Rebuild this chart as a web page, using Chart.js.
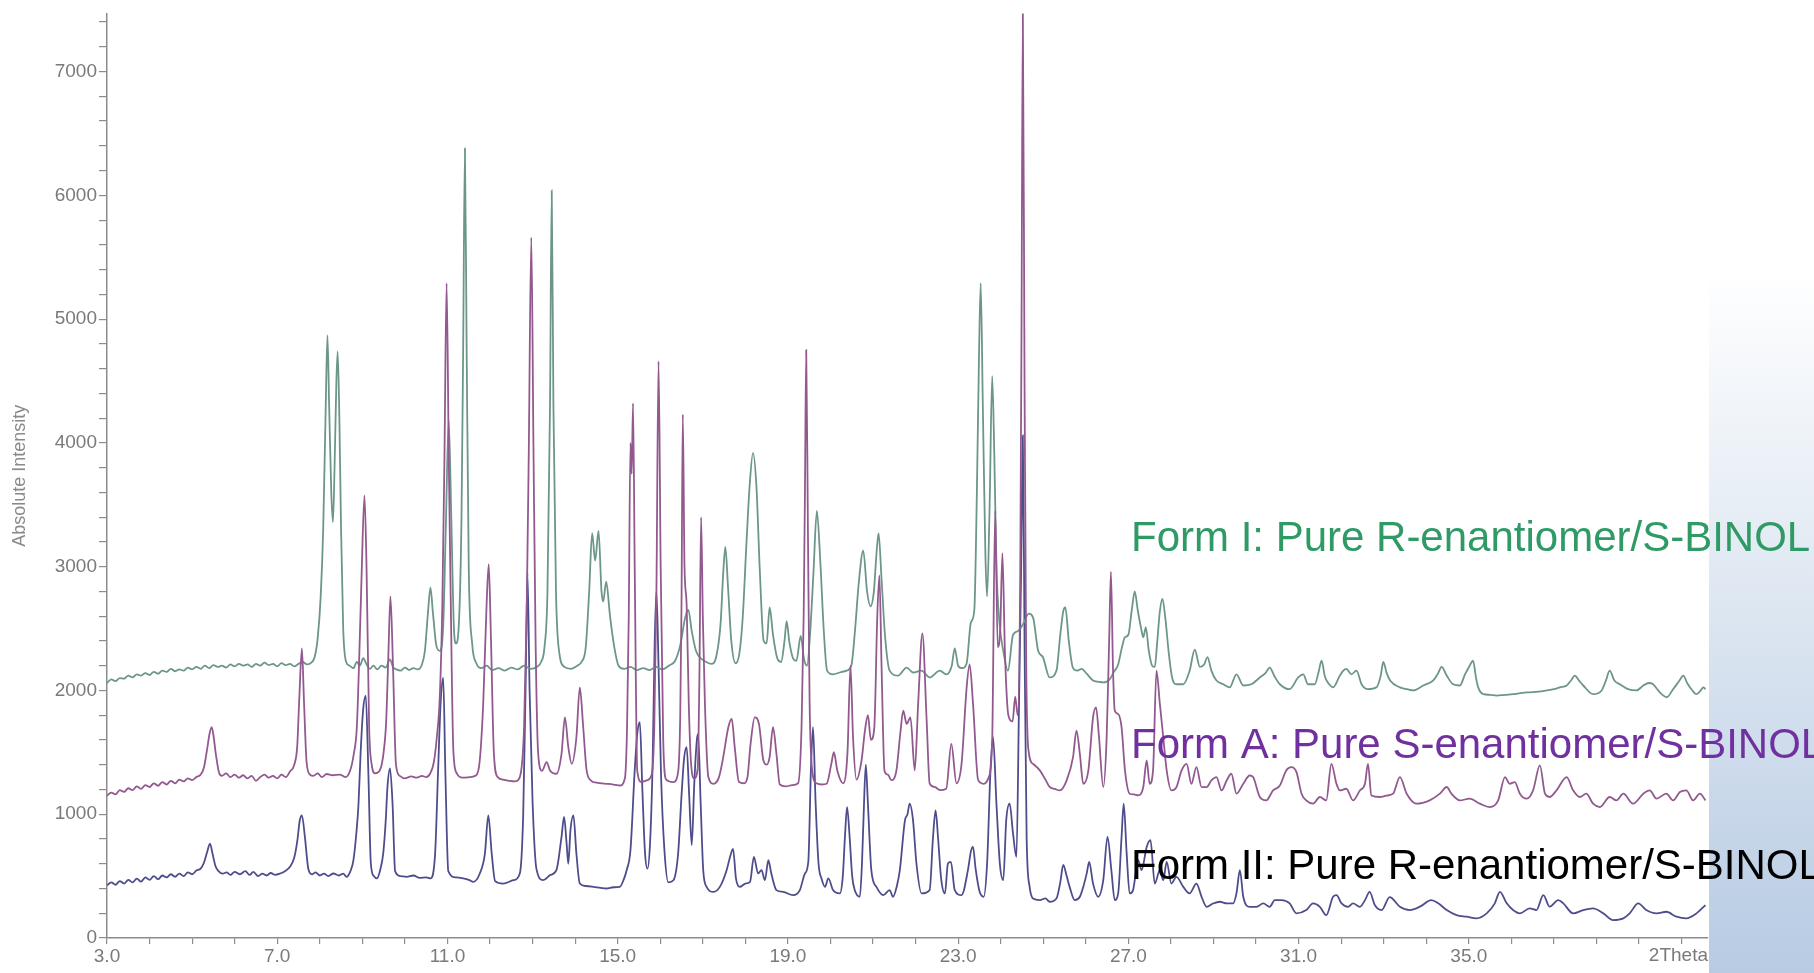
<!DOCTYPE html>
<html>
<head>
<meta charset="utf-8">
<title>XRPD overlay - BINOL salt forms</title>
<script src="https://cdn.jsdelivr.net/npm/chart.js@4.4.1/dist/chart.umd.min.js"></script>
<style>
  html, body { margin: 0; padding: 0; background: #ffffff; }
  canvas { display: block; }
</style>
</head>
<body>
<canvas id="xrpdChart" width="1814" height="973"></canvas>
<script>
// [2theta, absolute intensity] for each diffractogram (offset traces)
const formI = [
  [3.0,2060],[3.1,2090],[3.2,2075],[3.3,2100],[3.4,2095],[3.5,2120],[3.6,2105],[3.7,2130],[3.8,2120],[3.9,2140],
  [4.0,2125],[4.1,2150],[4.2,2135],[4.3,2160],[4.4,2150],[4.5,2175],[4.6,2155],[4.7,2170],[4.8,2160],[4.9,2185],
  [5.0,2170],[5.1,2190],[5.2,2175],[5.3,2200],[5.4,2180],[5.5,2205],[5.6,2190],[5.7,2200],[5.8,2185],[5.9,2210],
  [6.0,2195],[6.1,2215],[6.2,2200],[6.3,2210],[6.4,2190],[6.5,2215],[6.6,2200],[6.7,2225],[6.8,2205],[6.9,2215],
  [7.0,2195],[7.1,2220],[7.2,2205],[7.3,2215],[7.4,2195],[7.5,2215],[7.6,2230],[7.7,2210],[7.8,2225],[7.88,2270],
  [7.95,2420],[8.02,2750],[8.08,3300],[8.14,4300],[8.18,4870],[8.22,4300],[8.27,3600],[8.31,3360],[8.35,3850],[8.39,4500],
  [8.42,4740],[8.46,4200],[8.5,3300],[8.55,2500],[8.62,2230],[8.7,2200],[8.79,2180],[8.87,2230],[8.94,2200],[9.02,2260],
  [9.1,2210],[9.18,2175],[9.26,2200],[9.35,2170],[9.45,2200],[9.55,2185],[9.65,2250],[9.72,2190],[9.8,2170],[9.9,2160],
  [10.0,2185],[10.1,2165],[10.2,2180],[10.3,2170],[10.4,2210],[10.47,2320],[10.54,2620],[10.6,2830],[10.66,2620],[10.74,2360],
  [10.82,2320],[10.9,2520],[10.96,3300],[11.03,4180],[11.09,3400],[11.15,2520],[11.2,2380],[11.27,2550],[11.33,3400],[11.37,4800],
  [11.41,6380],[11.45,4800],[11.5,3000],[11.58,2380],[11.68,2220],[11.8,2180],[11.92,2200],[12.05,2165],[12.2,2180],[12.35,2160],
  [12.5,2185],[12.65,2170],[12.8,2200],[12.95,2175],[13.1,2190],[13.2,2230],[13.28,2350],[13.35,2800],[13.41,4300],[13.45,6040],
  [13.49,4300],[13.55,2800],[13.63,2300],[13.75,2190],[13.9,2175],[14.05,2200],[14.15,2230],[14.25,2350],[14.33,2800],[14.4,3270],
  [14.47,3050],[14.55,3290],[14.62,2800],[14.66,2720],[14.73,2880],[14.82,2600],[14.92,2350],[15.02,2200],[15.15,2175],[15.3,2190],
  [15.45,2165],[15.6,2180],[15.75,2165],[15.9,2190],[16.05,2170],[16.2,2200],[16.35,2240],[16.48,2380],[16.58,2580],[16.66,2650],
  [16.74,2480],[16.84,2320],[16.95,2260],[17.08,2230],[17.2,2215],[17.32,2280],[17.42,2550],[17.48,2950],[17.53,3160],[17.59,2850],
  [17.67,2400],[17.77,2220],[17.86,2300],[17.94,2600],[18.02,3150],[18.1,3650],[18.18,3920],[18.26,3650],[18.34,2965],[18.43,2400],
  [18.5,2380],[18.57,2670],[18.65,2450],[18.75,2260],[18.84,2230],[18.92,2400],[18.97,2560],[19.03,2400],[19.12,2260],[19.2,2240],
  [19.3,2440],[19.38,2250],[19.45,2200],[19.52,2450],[19.6,2950],[19.68,3450],[19.76,3050],[19.84,2500],[19.92,2160],[20.06,2130],
  [20.22,2145],[20.38,2160],[20.49,2200],[20.58,2500],[20.66,2850],[20.77,3130],[20.86,2800],[20.94,2680],[21.02,2800],[21.08,3100],
  [21.13,3270],[21.2,2900],[21.28,2450],[21.39,2160],[21.59,2120],[21.79,2185],[21.94,2145],[22.14,2160],[22.33,2105],[22.57,2160],
  [22.72,2130],[22.85,2200],[22.92,2340],[23.0,2200],[23.1,2180],[23.2,2220],[23.3,2550],[23.38,2650],[23.44,3600],[23.49,4700],
  [23.53,5290],[23.58,4300],[23.64,3100],[23.68,2760],[23.74,3500],[23.8,4540],[23.85,3900],[23.9,3000],[23.97,2550],[24.06,2320],
  [24.17,2160],[24.29,2450],[24.41,2480],[24.53,2540],[24.66,2620],[24.76,2590],[24.88,2320],[24.99,2270],[25.15,2105],[25.31,2160],
  [25.4,2450],[25.47,2640],[25.52,2670],[25.6,2400],[25.7,2180],[25.8,2160],[25.9,2175],[26.02,2135],[26.17,2080],[26.3,2070],
  [26.41,2065],[26.56,2090],[26.66,2150],[26.76,2210],[26.85,2350],[26.92,2430],[27.0,2450],[27.08,2650],[27.15,2800],[27.22,2650],
  [27.3,2500],[27.35,2430],[27.41,2510],[27.48,2320],[27.56,2200],[27.62,2190],[27.68,2400],[27.74,2640],[27.8,2740],[27.87,2580],
  [27.95,2300],[28.03,2100],[28.13,2050],[28.29,2050],[28.44,2160],[28.56,2330],[28.68,2190],[28.78,2210],[28.86,2270],[28.95,2160],
  [29.07,2080],[29.23,2050],[29.38,2025],[29.54,2130],[29.7,2040],[29.89,2050],[30.09,2105],[30.22,2140],[30.32,2185],[30.44,2110],
  [30.56,2050],[30.79,2010],[30.99,2105],[31.11,2130],[31.22,2050],[31.38,2050],[31.47,2150],[31.54,2240],[31.62,2110],[31.72,2050],
  [31.81,2025],[31.97,2120],[32.05,2160],[32.12,2175],[32.24,2130],[32.36,2160],[32.48,2050],[32.63,2010],[32.83,2025],[32.93,2120],
  [32.99,2230],[33.07,2140],[33.15,2080],[33.38,2025],[33.55,2010],[33.7,2000],[33.93,2040],[34.16,2080],[34.28,2140],[34.36,2190],
  [34.48,2120],[34.63,2050],[34.79,2040],[34.91,2130],[35.02,2200],[35.1,2240],[35.17,2100],[35.22,2025],[35.34,1970],[35.5,1965],
  [35.65,1958],[35.85,1965],[36.04,1970],[36.25,1980],[36.43,1985],[36.63,1990],[36.83,2000],[37.0,2010],[37.14,2025],[37.3,2040],
  [37.4,2080],[37.49,2120],[37.59,2080],[37.69,2040],[37.92,1970],[38.12,2000],[38.22,2080],[38.31,2160],[38.42,2080],[38.55,2050],
  [38.74,2010],[38.94,2000],[39.1,2040],[39.23,2060],[39.33,2050],[39.45,2000],[39.53,1970],[39.65,1945],[39.8,2010],[39.95,2080],
  [40.04,2120],[40.13,2060],[40.23,2010],[40.35,1970],[40.45,2000],[40.51,2025],[40.56,2010]
];

const formA = [
  [3.0,1150],[3.1,1175],[3.2,1160],[3.3,1195],[3.4,1180],[3.5,1210],[3.6,1195],[3.7,1225],[3.8,1205],[3.9,1235],
  [4.0,1220],[4.1,1250],[4.2,1230],[4.3,1260],[4.4,1240],[4.5,1270],[4.6,1250],[4.7,1280],[4.8,1265],[4.9,1290],
  [5.0,1275],[5.1,1300],[5.2,1320],[5.28,1380],[5.35,1520],[5.41,1650],[5.46,1703],[5.5,1640],[5.56,1480],[5.63,1340],
  [5.7,1310],[5.8,1330],[5.9,1300],[6.0,1320],[6.1,1295],[6.2,1315],[6.3,1290],[6.4,1310],[6.5,1270],[6.6,1300],
  [6.7,1320],[6.8,1295],[6.9,1310],[7.0,1290],[7.1,1320],[7.2,1300],[7.3,1345],[7.4,1400],[7.47,1550],[7.52,1950],
  [7.58,2340],[7.63,1900],[7.69,1420],[7.77,1320],[7.85,1310],[7.95,1330],[8.05,1300],[8.16,1325],[8.3,1315],[8.47,1320],
  [8.6,1300],[8.72,1360],[8.8,1490],[8.87,1700],[8.93,2300],[8.98,2900],[9.05,3575],[9.1,2965],[9.16,1700],[9.22,1400],
  [9.3,1330],[9.41,1354],[9.5,1500],[9.56,1750],[9.61,2267],[9.66,2760],[9.72,2200],[9.79,1400],[9.88,1310],[10.0,1290],
  [10.15,1305],[10.28,1295],[10.4,1310],[10.5,1300],[10.59,1327],[10.68,1420],[10.75,1622],[10.82,1950],[10.88,2700],[10.93,3900],
  [10.98,5290],[11.03,3900],[11.07,2900],[11.14,1500],[11.22,1330],[11.35,1295],[11.53,1300],[11.65,1310],[11.74,1380],[11.84,1891],
  [11.92,2697],[11.97,3020],[12.02,2450],[12.09,1500],[12.18,1300],[12.3,1280],[12.45,1270],[12.58,1265],[12.7,1300],[12.8,1700],
  [12.86,2600],[12.91,3900],[12.97,5660],[13.02,4000],[13.07,2428],[13.13,1500],[13.22,1350],[13.33,1421],[13.41,1354],[13.56,1327],
  [13.68,1488],[13.76,1783],[13.84,1542],[13.92,1407],[14.03,1622],[14.11,2025],[14.19,1703],[14.27,1354],[14.38,1270],[14.5,1255],
  [14.62,1250],[14.74,1246],[14.9,1240],[15.05,1232],[15.17,1290],[15.22,1700],[15.26,2600],[15.3,4000],[15.33,3750],[15.36,4320],
  [15.4,3000],[15.46,1350],[15.56,1260],[15.68,1273],[15.8,1320],[15.86,1700],[15.91,2800],[15.96,4660],[16.01,3000],[16.07,1600],
  [16.14,1280],[16.31,1260],[16.42,1340],[16.47,1800],[16.5,2700],[16.53,4230],[16.57,3000],[16.62,2697],[16.67,1900],[16.72,1430],
  [16.8,1290],[16.88,1370],[16.92,2100],[16.96,3400],[17.0,2600],[17.05,1891],[17.13,1300],[17.25,1246],[17.38,1300],[17.48,1461],
  [17.6,1703],[17.68,1770],[17.75,1542],[17.85,1260],[17.97,1250],[18.05,1300],[18.12,1560],[18.22,1783],[18.32,1730],[18.42,1440],
  [18.5,1400],[18.57,1461],[18.65,1703],[18.73,1488],[18.81,1240],[18.95,1225],[19.1,1235],[19.24,1250],[19.32,1700],[19.37,2600],
  [19.4,3600],[19.43,4750],[19.47,3300],[19.51,1900],[19.57,1354],[19.67,1250],[19.8,1240],[19.91,1246],[20.02,1407],[20.08,1501],
  [20.16,1354],[20.3,1250],[20.4,1500],[20.47,2200],[20.53,1622],[20.61,1280],[20.73,1434],[20.81,1676],[20.88,1800],[20.95,1600],
  [21.03,1700],[21.1,2600],[21.15,2930],[21.2,2200],[21.27,1350],[21.35,1320],[21.43,1275],[21.55,1354],[21.64,1650],[21.71,1837],
  [21.79,1730],[21.88,1783],[21.98,1354],[22.06,1891],[22.16,2460],[22.26,1757],[22.33,1250],[22.45,1220],[22.57,1195],[22.72,1206],
  [22.84,1569],[22.96,1250],[23.08,1407],[23.2,2025],[23.27,2210],[23.35,1891],[23.47,1275],[23.6,1246],[23.72,1300],[23.8,1600],
  [23.87,3450],[23.93,2350],[23.99,2500],[24.04,3110],[24.1,2300],[24.18,1800],[24.28,1750],[24.34,1950],[24.4,1800],[24.46,3000],
  [24.49,5000],[24.52,7480],[24.56,4500],[24.6,2200],[24.66,1500],[24.76,1407],[24.92,1354],[25.05,1280],[25.15,1220],[25.27,1205],
  [25.39,1192],[25.55,1273],[25.7,1461],[25.78,1676],[25.86,1488],[25.94,1246],[26.06,1354],[26.17,1783],[26.24,1864],[26.31,1622],
  [26.41,1219],[26.49,1622],[26.55,2428],[26.59,2960],[26.64,2159],[26.68,1837],[26.76,1810],[26.84,1703],[26.92,1354],[27.03,1166],
  [27.13,1160],[27.23,1152],[27.35,1219],[27.43,1434],[27.5,1246],[27.58,1354],[27.66,2159],[27.74,1891],[27.82,1622],[27.9,1354],
  [28.01,1192],[28.13,1219],[28.25,1354],[28.37,1407],[28.48,1246],[28.6,1380],[28.72,1219],[28.84,1219],[28.95,1273],[29.07,1300],
  [29.19,1192],[29.31,1273],[29.42,1327],[29.54,1166],[29.7,1246],[29.85,1313],[29.93,1300],[30.09,1139],[30.24,1112],[30.4,1192],
  [30.56,1232],[30.71,1354],[30.83,1380],[30.95,1340],[31.07,1166],[31.18,1112],[31.34,1085],[31.5,1139],[31.65,1112],[31.77,1407],
  [31.89,1246],[31.97,1192],[32.12,1206],[32.28,1112],[32.44,1192],[32.56,1246],[32.63,1407],[32.71,1152],[32.91,1139],[33.06,1150],
  [33.22,1166],[33.38,1300],[33.54,1166],[33.77,1085],[34.08,1112],[34.32,1166],[34.48,1220],[34.59,1166],[34.79,1112],[35.02,1126],
  [35.26,1085],[35.49,1058],[35.69,1112],[35.85,1300],[35.96,1246],[36.08,1260],[36.2,1166],[36.36,1126],[36.51,1193],[36.67,1394],
  [36.79,1166],[36.9,1139],[37.06,1193],[37.3,1300],[37.45,1193],[37.61,1139],[37.76,1166],[37.92,1085],[38.08,1058],[38.31,1139],
  [38.47,1112],[38.63,1166],[38.86,1085],[39.1,1166],[39.25,1193],[39.41,1126],[39.64,1166],[39.8,1112],[39.96,1179],[40.11,1193],
  [40.27,1112],[40.43,1166],[40.56,1112]
];

const formII = [
  [3.0,425],[3.1,450],[3.2,430],[3.3,460],[3.4,440],[3.5,470],[3.6,450],[3.7,480],[3.8,455],[3.9,490],
  [4.0,470],[4.1,500],[4.2,475],[4.3,505],[4.4,490],[4.5,515],[4.6,495],[4.7,520],[4.8,500],[4.9,530],
  [5.0,515],[5.1,545],[5.2,560],[5.28,610],[5.35,690],[5.42,763],[5.48,680],[5.55,580],[5.62,540],[5.72,520],
  [5.81,530],[5.9,510],[6.0,535],[6.12,515],[6.25,540],[6.35,510],[6.44,535],[6.55,500],[6.65,520],[6.75,505],
  [6.85,525],[6.95,510],[7.07,521],[7.18,540],[7.3,575],[7.4,650],[7.47,780],[7.53,951],[7.58,991],[7.65,817],
  [7.73,560],[7.82,515],[7.9,530],[8.0,505],[8.1,520],[8.2,500],[8.32,521],[8.45,505],[8.55,520],[8.63,494],
  [8.72,540],[8.79,628],[8.86,850],[8.91,1085],[8.96,1500],[9.02,1850],[9.08,1958],[9.14,1354],[9.2,600],[9.27,500],
  [9.34,481],[9.42,550],[9.49,682],[9.55,950],[9.59,1219],[9.65,1370],[9.71,1085],[9.77,540],[9.9,500],[10.04,494],
  [10.2,505],[10.35,485],[10.5,490],[10.6,481],[10.71,682],[10.78,1354],[10.84,1900],[10.9,2104],[10.95,1354],[11.02,540],
  [11.2,490],[11.37,481],[11.5,470],[11.61,454],[11.76,521],[11.88,682],[11.96,991],[12.04,682],[12.12,460],[12.31,440],
  [12.55,467],[12.7,521],[12.78,1000],[12.84,2100],[12.88,2950],[12.93,2000],[13.0,1100],[13.09,560],[13.25,467],[13.41,508],
  [13.56,548],[13.68,817],[13.74,978],[13.8,763],[13.84,600],[13.89,870],[13.96,991],[14.03,682],[14.11,440],[14.25,420],
  [14.43,413],[14.6,405],[14.74,400],[14.9,410],[15.05,413],[15.15,480],[15.21,548],[15.3,709],[15.4,1354],[15.46,1650],
  [15.52,1743],[15.58,1200],[15.64,700],[15.7,560],[15.76,763],[15.82,1400],[15.87,2400],[15.91,2800],[15.96,2200],[16.02,1300],
  [16.1,700],[16.19,450],[16.31,467],[16.42,682],[16.5,1150],[16.56,1450],[16.62,1542],[16.68,1150],[16.74,750],[16.8,1250],
  [16.86,1600],[16.89,1649],[16.95,1085],[17.01,548],[17.09,413],[17.25,373],[17.4,413],[17.56,548],[17.64,655],[17.71,720],
  [17.78,480],[17.87,413],[18.0,440],[18.11,454],[18.2,655],[18.3,521],[18.38,548],[18.46,467],[18.54,628],[18.61,521],
  [18.73,387],[18.89,373],[19.12,346],[19.28,387],[19.4,521],[19.48,620],[19.54,1354],[19.59,1703],[19.65,1100],[19.72,600],
  [19.79,480],[19.87,413],[19.95,481],[20.06,387],[20.22,360],[20.29,500],[20.34,817],[20.39,1058],[20.45,817],[20.51,500],
  [20.57,387],[20.69,333],[20.74,600],[20.78,1000],[20.83,1400],[20.88,1085],[20.96,548],[21.08,413],[21.24,346],[21.39,387],
  [21.47,333],[21.56,420],[21.63,548],[21.75,951],[21.81,1000],[21.86,1085],[21.94,951],[22.02,602],[22.14,360],[22.33,387],
  [22.41,817],[22.47,1031],[22.53,800],[22.6,480],[22.69,360],[22.76,602],[22.83,615],[22.92,387],[23.08,346],[23.23,548],
  [23.3,700],[23.35,736],[23.41,560],[23.5,380],[23.6,333],[23.68,600],[23.76,1354],[23.82,1622],[23.9,1085],[23.98,600],
  [24.06,467],[24.13,951],[24.21,1085],[24.29,843],[24.37,655],[24.43,1891],[24.48,2965],[24.52,4060],[24.56,2400],[24.61,800],
  [24.68,413],[24.76,319],[24.92,306],[25.05,320],[25.15,293],[25.31,319],[25.4,450],[25.47,590],[25.55,500],[25.62,413],
  [25.74,306],[25.86,333],[25.94,413],[26.02,520],[26.08,615],[26.17,440],[26.29,333],[26.41,467],[26.51,817],[26.6,548],
  [26.68,306],[26.76,360],[26.84,817],[26.89,1085],[26.96,682],[27.03,360],[27.11,387],[27.23,628],[27.31,548],[27.43,736],
  [27.52,790],[27.62,440],[27.74,548],[27.82,467],[27.9,615],[28.01,440],[28.13,494],[28.29,413],[28.44,360],[28.6,440],
  [28.72,333],[28.84,252],[28.99,279],[29.15,293],[29.31,279],[29.46,279],[29.54,360],[29.62,548],[29.7,333],[29.85,252],
  [30.01,252],[30.17,279],[30.32,252],[30.44,306],[30.6,306],[30.79,279],[30.95,199],[31.18,226],[31.34,279],[31.5,252],
  [31.65,185],[31.81,333],[31.89,346],[32.01,279],[32.16,252],[32.28,279],[32.44,252],[32.56,306],[32.67,373],[32.79,266],
  [32.95,226],[33.14,330],[33.38,253],[33.61,226],[33.85,253],[34.12,306],[34.28,280],[34.48,226],[34.71,185],[34.95,172],
  [35.18,159],[35.42,199],[35.61,280],[35.73,373],[35.89,280],[36.04,226],[36.2,199],[36.43,239],[36.59,226],[36.75,347],
  [36.9,253],[37.1,306],[37.22,280],[37.45,199],[37.69,226],[37.92,239],[38.16,199],[38.39,145],[38.63,159],[38.78,199],
  [38.98,280],[39.17,226],[39.41,199],[39.64,212],[39.88,172],[40.11,159],[40.35,199],[40.56,266]
];

const xLabelTicks = [3, 7, 11, 15, 19, 23, 27, 31, 35];
const yLabelTicks = [0, 1000, 2000, 3000, 4000, 5000, 6000, 7000];
const seriesNames = [
  'Form I: Pure R-enantiomer/S-BINOL',
  'Form A: Pure S-enantiomer/S-BINOL',
  'Form II: Pure R-enantiomer/S-BINOL'
];

document.addEventListener("DOMContentLoaded", function () {
  const ctx = document.getElementById('xrpdChart');
  const axisGrey = '#8c8c8c';
  const labelGrey = '#7a7a7a';
  const fontFamily = '"Liberation Sans", Arial, sans-serif';
  const toXY = pts => pts.map(([x, y]) => ({ x: x, y: y }));

  // shaded strip on the right edge + the form captions + axis unit text
  const decorations = {
    id: 'decorations',
    beforeDraw(chart) {
      const c = chart.ctx;
      const g = c.createLinearGradient(0, 270, 0, 973);
      g.addColorStop(0, 'rgba(255,255,255,1)');
      g.addColorStop(0.45, '#dfe8f2');
      g.addColorStop(1, '#b7cbe3');
      c.save();
      c.fillStyle = g;
      c.fillRect(1709, 270, 105, 703);
      c.restore();
    },
    afterDraw(chart) {
      const c = chart.ctx;
      const xs = chart.scales.x;
      c.save();
      c.font = '19px ' + fontFamily;
      c.fillStyle = labelGrey;
      c.textAlign = 'right';
      c.textBaseline = 'top';
      c.fillText('2Theta', xs.right, xs.top + 8);

      c.font = '42px ' + fontFamily;
      c.textAlign = 'left';
      c.textBaseline = 'alphabetic';
      const captionColors = ['#2f9a66', '#7030a0', '#000000'];
      const captionBaselines = [551, 758, 879];
      seriesNames.forEach((name, i) => {
        c.fillStyle = captionColors[i];
        c.fillText(name, 1131, captionBaselines[i]);
      });
      c.restore();
    }
  };

  const lineStyle = {
    pointRadius: 0,
    borderWidth: 1.8,
    fill: false,
    cubicInterpolationMode: 'monotone'
  };

  new Chart(ctx, {
    type: 'line',
    data: {
      datasets: [
        Object.assign({ label: seriesNames[1], data: toXY(formA), borderColor: '#92598f' }, lineStyle),
        Object.assign({ label: seriesNames[0], data: toXY(formI), borderColor: '#6c968a' }, lineStyle),
        Object.assign({ label: seriesNames[2], data: toXY(formII), borderColor: '#4e4d8c' }, lineStyle)
      ]
    },
    options: {
      responsive: false,
      animation: false,
      events: [],
      layout: { padding: { top: 12, right: 106, left: 0, bottom: 0 } },
      plugins: {
        legend: { display: false },
        tooltip: { enabled: false }
      },
      scales: {
        x: {
          type: 'linear',
          min: 3,
          max: 40.62,
          afterFit: s => { s.height = 35; },
          border: { color: axisGrey, width: 1.5 },
          grid: { drawOnChartArea: false, color: axisGrey, lineWidth: 1.2, tickLength: 6 },
          ticks: {
            stepSize: 1,
            autoSkip: false,
            includeBounds: false,
            maxRotation: 0,
            padding: 1,
            color: labelGrey,
            font: { family: fontFamily, size: 19 },
            callback: v => xLabelTicks.includes(v) ? v.toFixed(1) : ''
          }
        },
        y: {
          min: 0,
          max: 7470,
          afterFit: s => { s.width = 107; },
          border: { color: axisGrey, width: 1.5 },
          grid: { drawOnChartArea: false, color: axisGrey, lineWidth: 1.2, tickLength: 8 },
          title: {
            display: true,
            text: 'Absolute Intensity',
            color: '#8a8a8a',
            padding: { top: 9, bottom: 0 },
            font: { family: fontFamily, size: 18 }
          },
          ticks: {
            stepSize: 200,
            autoSkip: false,
            includeBounds: false,
            padding: 2,
            color: labelGrey,
            font: { family: fontFamily, size: 19 },
            callback: v => yLabelTicks.includes(v) ? String(v) : ''
          }
        }
      }
    },
    plugins: [decorations]
  });
});
</script>
</body>
</html>
